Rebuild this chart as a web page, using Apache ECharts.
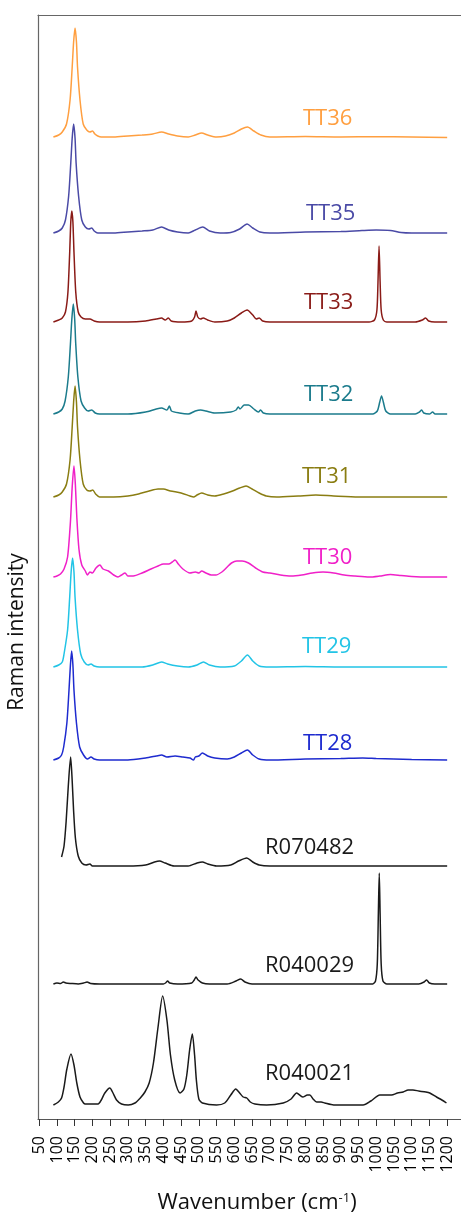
<!DOCTYPE html>
<html>
<head>
    <meta charset="utf-8">
    <title>Raman spectra</title>
    <script src="https://cdn.jsdelivr.net/npm/echarts@6/dist/echarts.min.js"></script>
    <style>
        html, body { margin: 0; padding: 0; background: #fff; }
    </style>
</head>
<body>
<div id="main" style="width: 461px;height:1214px;"></div>
<script>
    // tick labels on the wavenumber axis
    var xTicks = [50, 100, 150, 200, 250, 300, 350, 400, 450, 500, 550, 600, 650, 700,
        750, 800, 850, 900, 950, 1000, 1050, 1100, 1150, 1200];

    // sample names, top to bottom
    var names = ['TT36', 'TT35', 'TT33', 'TT32', 'TT31', 'TT30', 'TT29', 'TT28', 'R070482', 'R040029', 'R040021'];
    // vertical offset (stacking) of each spectrum
    var offsets = [982, 886, 797, 705, 622, 542, 452, 359, 253, 135, 14];

    // spectra: [wavenumber, intensity]
    var tt36 = [[90,0],[105,2],[115,5],[127,13],[137,37],[143,70],[147,95],[151,109],[155,95],[158,70],[165,37],[174,13],[184,7],[193,5],[200,6],[207,3],[215,1],[225,0],[260,0],[300,1],[340,2],[370,3],[395,5],[415,3],[440,1],[470,0],[490,2],[508,4],[525,2],[550,0],[575,1],[600,4],[620,8],[637,10],[655,6],[675,2],[700,0],[800,0.5],[900,0],[1000,0.3],[1100,0],[1200,-0.5]];
    var tt35 = [[90,0],[105,2],[115,5],[124,13],[133,37],[139,70],[143,95],[147,109],[151,95],[154,70],[161,37],[170,13],[180,6],[190,4],[198,5],[205,2],[215,0],[260,0],[300,1],[340,2],[370,3],[395,6],[415,3],[440,1],[470,0],[490,3],[511,6],[530,2],[560,0],[590,0.5],[615,4],[636,9],[652,5],[672,1],[700,0],[800,1],[900,1.5],[960,2.5],[1000,3],[1040,2.5],[1070,0.5],[1100,0],[1200,0]];
    var tt33 = [[90,0],[105,2],[115,4],[124,10],[131,30],[136,70],[139,100],[142,111],[145,100],[148,70],[153,30],[160,10],[168,5],[180,3],[193,3],[205,1],[220,0],[300,0],[350,1],[380,3],[395,4],[405,2],[414,4],[422,1],[450,0],[480,1],[488,5],[492,11],[497,5],[505,3],[512,4],[525,2],[545,0],[580,1],[600,4],[620,9],[636,12],[652,7],[662,3],[670,4],[680,1],[700,0],[900,0],[980,0],[995,2],[1002,12],[1005,40],[1008,76],[1011,40],[1014,12],[1020,2],[1030,0],[1110,0],[1130,2],[1139,4],[1148,1],[1165,0],[1200,0]];
    var tt32 = [[90,0],[105,2],[115,5],[123,13],[132,37],[138,70],[142,95],[146,110],[150,95],[153,70],[159,37],[168,13],[178,6],[188,3],[198,4],[208,1],[220,0],[300,0],[350,2],[380,5],[395,6],[410,4],[417,8],[423,3],[445,1],[470,0],[490,3],[505,4],[520,3],[545,1],[590,2],[605,4],[611,7],[616,5],[628,9],[640,9],[655,5],[668,2],[674,4],[682,1],[700,0],[900,0],[990,0],[1003,3],[1010,12],[1015,18],[1020,12],[1027,3],[1040,0],[1110,0],[1122,2],[1128,4],[1134,1],[1150,0],[1159,2],[1166,0],[1200,0]];
    var tt31 = [[90,0],[105,2],[115,5],[127,13],[137,37],[143,70],[147,95],[151,111],[155,95],[158,70],[165,37],[174,13],[184,7],[193,6],[201,7],[209,3],[220,0],[260,0],[300,1],[330,3],[360,6],[385,8],[400,8],[420,6],[450,4],[475,1],[485,0],[495,2],[508,4],[525,2],[545,1],[570,3],[595,6],[615,9],[633,11],[650,8],[670,4],[690,1],[720,0],[780,1],[830,2],[880,1],[950,0],[1200,0]];
    var tt30 = [[90,0],[100,1],[110,3],[120,8],[130,20],[138,55],[143,90],[148,111],[152,92],[156,60],[162,28],[170,12],[180,6],[186,2],[193,5],[200,4],[210,9],[221,12],[230,8],[245,6],[260,2],[272,0],[282,2],[292,4],[300,1],[315,1],[340,4],[365,8],[385,11],[400,13],[415,13],[425,15],[433,17],[442,13],[455,8],[475,4],[490,5],[500,4],[508,6],[520,4],[535,2],[548,2],[565,5],[580,10],[592,14],[607,16],[622,16],[640,14],[660,9],[680,5],[700,4],[730,2],[760,1],[790,2],[820,4],[850,5],[880,4],[910,2],[940,1],[980,0],[1010,1],[1040,2.5],[1070,1.5],[1100,0.5],[1150,0],[1200,0]];
    var tt29 = [[90,0],[105,2],[115,5],[120,13],[130,37],[136,70],[140,95],[144,109],[148,95],[151,70],[158,37],[167,13],[177,5],[188,2],[196,3],[205,1],[220,0],[340,0],[370,2],[395,5],[412,3],[440,1],[470,0],[495,2],[513,5],[530,2],[560,0],[600,1],[620,6],[637,12],[652,6],[670,1],[700,0],[800,0.5],[900,0],[1200,0]];
    var tt28 = [[90,0],[105,2],[113,5],[119,13],[128,37],[134,70],[138,95],[141.5,109],[145,95],[148,70],[155,37],[164,13],[175,5],[186,1],[196,3],[205,1],[220,0],[300,0],[350,2],[380,4],[395,5],[410,3],[433,4],[455,3],[475,2],[485,0],[490,3],[500,4],[510,7],[525,4],[545,2],[580,1],[600,3],[620,7],[637,10],[652,5],[670,1],[700,0],[800,1],[900,1.5],[962,2],[1000,1.5],[1050,1],[1100,0.5],[1200,0]];
    var r070482 = [[113,9],[120,20],[126,45],[132,80],[138.6,109],[143,85],[147,55],[152,28],[160,10],[170,3],[182,1],[193,2],[200,0],[300,0],[350,1],[375,4],[389,5],[405,3],[430,0],[470,0],[495,3],[510,4],[525,2],[550,0],[590,1],[612,5],[635,8],[652,4],[670,1],[700,0],[1200,0]];
    var r040029 = [[90,0],[100,1],[110,0.5],[118,2],[125,1],[140,0.5],[160,0],[175,1],[185,2],[195,0.5],[220,0],[300,0],[400,0],[406,1],[412,3],[418,1],[440,0],[480,1],[487,4],[492,7],[498,4],[510,1],[530,0],[580,0],[605,3],[618,5],[630,2],[650,0],[900,0],[990,0],[998,3],[1003,20],[1006,70],[1008.6,111],[1011,70],[1014,20],[1019,3],[1030,0],[1120,0],[1135,2],[1142,4],[1150,1],[1165,0],[1200,0]];
    var r040021 = [[90,0],[104,3],[113,7],[120,18],[128,36],[139.6,51],[148,40],[156,22],[165,8],[175,2],[180,1],[200,1],[216,1],[225,5],[235,12],[249,17],[258,12],[268,5],[282,1],[301,0],[320,2],[335,7],[348,13],[360,22],[372,42],[385,78],[398,109],[410,85],[420,50],[432,25],[447,12],[458,16],[466,30],[474,55],[481.6,71],[488,50],[493,25],[500,6],[510,2],[550,0],[573,2],[590,10],[604,16],[615,12],[625,8],[635,7],[645,3],[658,1],[691,0],[738,2],[760,6],[775.6,12],[793,8],[806,10],[813,10],[822,6],[832,3],[845,3],[855,2],[880,0],[963,0],[985,4],[1010,10],[1025,10],[1043,10],[1060,12],[1076,13],[1090,15],[1103.6,15],[1120,14],[1140,13],[1151,12],[1170,8],[1185,5],[1198,2]];

    var spectra = [tt36, tt35, tt33, tt32, tt31, tt30, tt29, tt28, r070482, r040029, r040021];
    var colors = ['#FF9F40', '#4A4AA6', '#8A1B17', '#1B7B8C', '#8A7D12', '#F020C8', '#22C4E6', '#1E2BCF', '#1a1a1a', '#1a1a1a', '#1a1a1a'];

    var myChart = echarts.init(document.getElementById('main'));
    var FONT = '"Open Sans", "Noto Sans", sans-serif';

    var series = [];
    for (var i = 0; i < spectra.length; i++) {
        var off = offsets[i];
        series.push({
            name: names[i],
            type: 'line',
            showSymbol: false,
            smooth: 0.25,
            silent: true,
            lineStyle: { color: colors[i], width: 1.5 },
            data: spectra[i].map(function (p) { return [p[0], off + p[1]]; })
        });
    }

    // label positions (left x, centre y) in pixels
    var labelPos = [[303, 119], [306, 214], [304, 303], [304, 395], [302, 477], [303, 558],
        [302, 647], [303, 744], [265, 848], [265, 966], [265, 1074]];
    var graphics = names.map(function (n, i) {
        return {
            type: 'text', x: labelPos[i][0], y: labelPos[i][1],
            style: { text: n, fill: colors[i], font: '22px ' + FONT, verticalAlign: 'middle' }
        };
    });
    graphics.push({
        type: 'text', x: 257, y: 1203,
        style: {
            text: 'Wavenumber (cm{sup|-1})', fill: '#111', font: '22px ' + FONT,
            align: 'center', verticalAlign: 'middle',
            rich: { sup: { fontSize: 13, fontFamily: 'Open Sans', verticalAlign: 'top', padding: [0, 0, 10, 0] } }
        }
    });
    graphics.push({
        type: 'text', x: 17, y: 632, rotation: Math.PI / 2,
        style: { text: 'Raman intensity', fill: '#111', font: '21px ' + FONT, align: 'center', verticalAlign: 'middle' }
    });

    var option = {
        animation: false,
        backgroundColor: '#fff',
        grid: { left: 38, right: 0, top: 15, bottom: 95 },
        xAxis: [{
            type: 'value',
            min: 46.6,
            max: 1239,
            axisLine: { show: true, lineStyle: { color: '#555', width: 1.2 } },
            axisTick: { show: true, length: 7, customValues: xTicks, lineStyle: { color: '#333' } },
            axisLabel: {
                rotate: 90, margin: 17, customValues: xTicks, color: '#000', fontSize: 16, fontFamily: FONT,
                formatter: function (v) { return String(v); }
            },
            splitLine: { show: false }
        }, {
            type: 'value',
            position: 'top',
            min: 46.6,
            max: 1239,
            axisLine: { show: true, lineStyle: { color: '#666', width: 1.2 } },
            axisTick: { show: false },
            axisLabel: { show: false },
            splitLine: { show: false }
        }],
        yAxis: {
            type: 'value',
            min: 0,
            max: 1104,
            axisLine: { show: true, lineStyle: { color: '#666', width: 1.2 } },
            axisTick: { show: false },
            axisLabel: { show: false },
            splitLine: { show: false }
        },
        graphic: graphics,
        series: series
    };
    myChart.setOption(option);
</script>
</body>
</html>
